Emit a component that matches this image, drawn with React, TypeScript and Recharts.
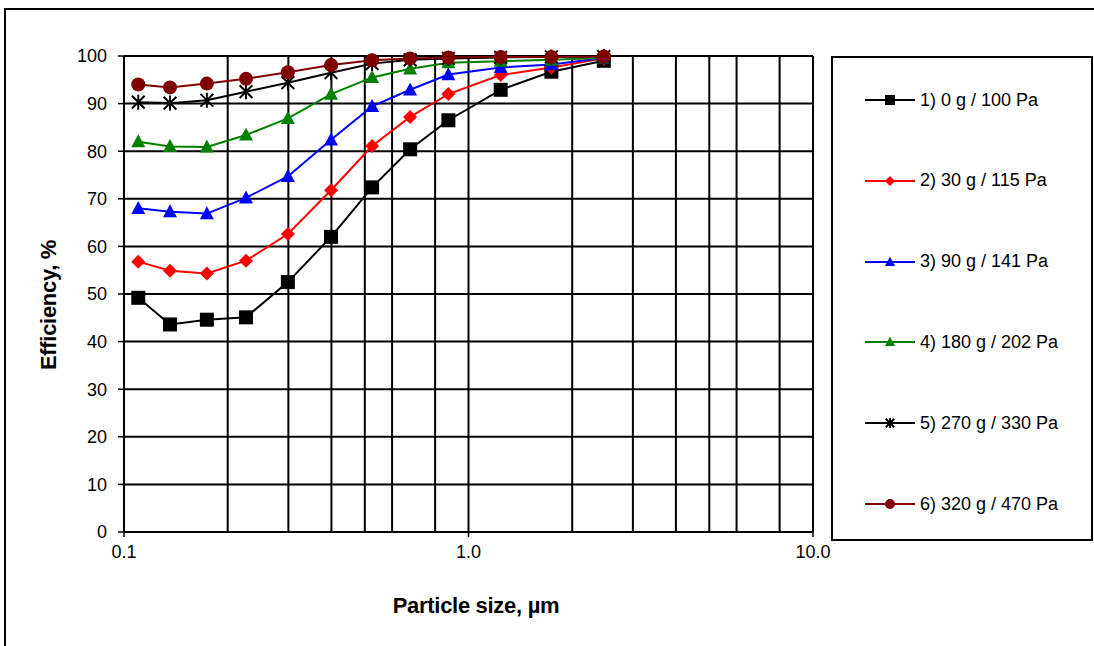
import React from 'react';
import { LineChart, Line, XAxis, YAxis, CartesianGrid } from 'recharts';

// particle size (µm) of each impactor stage
const sizes = [0.11, 0.136, 0.174, 0.226, 0.299, 0.399, 0.525, 0.677, 0.874, 1.24, 1.74, 2.47];

// efficiency, % for each test
const eff1 = [49.2, 43.6, 44.6, 45.1, 52.5, 62.0, 72.4, 80.4, 86.5, 92.9, 96.7, 99.0];
const eff2 = [56.8, 54.9, 54.3, 57.0, 62.6, 71.8, 81.1, 87.2, 92.0, 96.0, 97.6, 99.5];
const eff3 = [68.0, 67.3, 66.9, 70.2, 74.7, 82.4, 89.4, 92.9, 96.1, 97.6, 98.2, 99.6];
const eff4 = [82.0, 81.0, 80.9, 83.4, 86.9, 92.0, 95.5, 97.3, 98.6, 98.9, 99.2, 99.6];
const eff5 = [90.3, 90.1, 90.7, 92.5, 94.4, 96.5, 98.4, 99.2, 99.5, 99.7, 99.8, 99.9];
const eff6 = [94.0, 93.4, 94.2, 95.2, 96.6, 98.1, 99.1, 99.5, 99.7, 99.8, 99.8, 99.9];

const seriesNames = [
  '1) 0 g / 100 Pa',
  '2) 30 g / 115 Pa',
  '3) 90 g / 141 Pa',
  '4) 180 g / 202 Pa',
  '5) 270 g / 330 Pa',
  '6) 320 g / 470 Pa',
];

const xTicks = [0.1, 1, 10];
const yTicks = [0, 10, 20, 30, 40, 50, 60, 70, 80, 90, 100];
const xGrid = [0.2, 0.3, 0.4, 0.5, 0.6, 0.7, 0.8, 0.9, 1, 2, 3, 4, 5, 6, 7, 8, 9, 10];

const allEff = [eff1, eff2, eff3, eff4, eff5, eff6];
const data = sizes.map((x, i) => {
  const row: Record<string, number> = { x };
  allEff.forEach((arr, k) => {
    row['s' + (k + 1)] = arr[i];
  });
  return row;
});

type Kind = 'square' | 'diamond' | 'triangle' | 'star' | 'circle';

const series: { key: string; color: string; kind: Kind }[] = [
  { key: 's1', color: '#000000', kind: 'square' },
  { key: 's2', color: '#FF0000', kind: 'diamond' },
  { key: 's3', color: '#0000FF', kind: 'triangle' },
  { key: 's4', color: '#008000', kind: 'triangle' },
  { key: 's5', color: '#000000', kind: 'star' },
  { key: 's6', color: '#800000', kind: 'circle' },
];

function Marker({ kind, cx, cy, s, color }: { kind: Kind; cx: number; cy: number; s: number; color: string }) {
  const h = s / 2;
  if (kind === 'square') return <rect x={cx - h} y={cy - h} width={s} height={s} fill={color} />;
  if (kind === 'diamond')
    return <polygon points={`${cx},${cy - h} ${cx + h},${cy} ${cx},${cy + h} ${cx - h},${cy}`} fill={color} />;
  if (kind === 'triangle')
    return (
      <polygon
        points={`${cx},${cy - h * 1.05} ${cx + h},${cy + h * 0.8} ${cx - h},${cy + h * 0.8}`}
        fill={color}
      />
    );
  if (kind === 'star') {
    const d = h * 0.85;
    return (
      <path
        d={`M${cx - d},${cy - d}L${cx + d},${cy + d}M${cx - d},${cy + d}L${cx + d},${cy - d}M${cx},${cy - h}L${cx},${cy + h}`}
        stroke={color}
        strokeWidth={2}
        fill="none"
      />
    );
  }
  return <circle cx={cx} cy={cy} r={h} fill={color} />;
}

const font = 'Arial, "Liberation Sans", sans-serif';

export default function App() {
  return (
    <div
      style={{
        position: 'absolute',
        left: 0,
        top: 0,
        width: 1094,
        height: 646,
        overflow: 'hidden',
        background: '#fff',
        fontFamily: font,
      }}
    >
      {/* outer chart frame, right and bottom edges fall outside the picture */}
      <div
        style={{
          position: 'absolute',
          left: 4,
          top: 8,
          width: 1200,
          height: 700,
          border: '2px solid #000',
        }}
      />
      <div style={{ position: 'absolute', left: 0, top: 0 }}>
        <LineChart width={1094} height={646} data={data} margin={{ top: 56, right: 281, bottom: 84, left: 64 }}>
          <CartesianGrid
            stroke="#000"
            strokeWidth={2}
            verticalValues={xGrid}
            horizontalValues={yTicks}
          />
          <XAxis
            dataKey="x"
            type="number"
            scale="log"
            domain={[0.1, 10]}
            ticks={xTicks}
            allowDataOverflow
            tickFormatter={(v: number) => v.toFixed(1)}
            tick={{ fill: '#000', fontSize: 18, fontFamily: font }}
            tickSize={5}
            tickMargin={8}
            height={30}
            axisLine={{ stroke: '#000', strokeWidth: 2 }}
            tickLine={{ stroke: '#000', strokeWidth: 1.5 }}
          />
          <YAxis
            type="number"
            domain={[0, 100]}
            ticks={yTicks}
            interval={0}
            width={60}
            tick={{ fill: '#000', fontSize: 18, fontFamily: font }}
            tickSize={6}
            tickMargin={11}
            axisLine={{ stroke: '#000', strokeWidth: 2 }}
            tickLine={{ stroke: '#000', strokeWidth: 1.5 }}
          />
          {series.map((s) => (
            <Line
              key={s.key}
              dataKey={s.key}
              type="linear"
              stroke={s.color}
              strokeWidth={2}
              isAnimationActive={false}
              dot={(p: any) => (
                <Marker key={`${s.key}-${p.index}`} kind={s.kind} cx={p.cx} cy={p.cy} s={s.kind === 'star' ? 15 : 14} color={s.color} />
              )}
              activeDot={false}
            />
          ))}
        </LineChart>
      </div>

      {/* axis titles */}
      <div
        style={{
          position: 'absolute',
          left: 49,
          top: 305,
          transform: 'translate(-50%, -50%) rotate(-90deg)',
          fontWeight: 'bold',
          fontSize: 22,
          letterSpacing: -0.3,
          whiteSpace: 'nowrap',
        }}
      >
        Efficiency, %
      </div>
      <div
        style={{
          position: 'absolute',
          left: 476,
          top: 606,
          transform: 'translate(-50%, -50%)',
          fontWeight: 'bold',
          fontSize: 22,
          letterSpacing: -0.3,
          whiteSpace: 'nowrap',
        }}
      >
        Particle size, µm
      </div>

      {/* legend */}
      <div
        style={{
          position: 'absolute',
          left: 831,
          top: 56,
          width: 262,
          height: 485,
          border: '2px solid #000',
          boxSizing: 'border-box',
          background: '#fff',
        }}
      >
        {series.map((s, i) => (
          <div
            key={s.key}
            style={{
              position: 'absolute',
              left: 31,
              top: 42 + i * 80.8 - 10,
              height: 20,
              display: 'flex',
              alignItems: 'center',
            }}
          >
            <svg width={52} height={20}>
              <line x1={1} y1={10} x2={51} y2={10} stroke={s.color} strokeWidth={2} />
              <Marker kind={s.kind} cx={26} cy={10} s={s.kind === 'star' ? 10 : 10} color={s.color} />
            </svg>
            <span style={{ fontSize: 18, marginLeft: 4, whiteSpace: 'nowrap' }}>{seriesNames[i]}</span>
          </div>
        ))}
      </div>
    </div>
  );
}
